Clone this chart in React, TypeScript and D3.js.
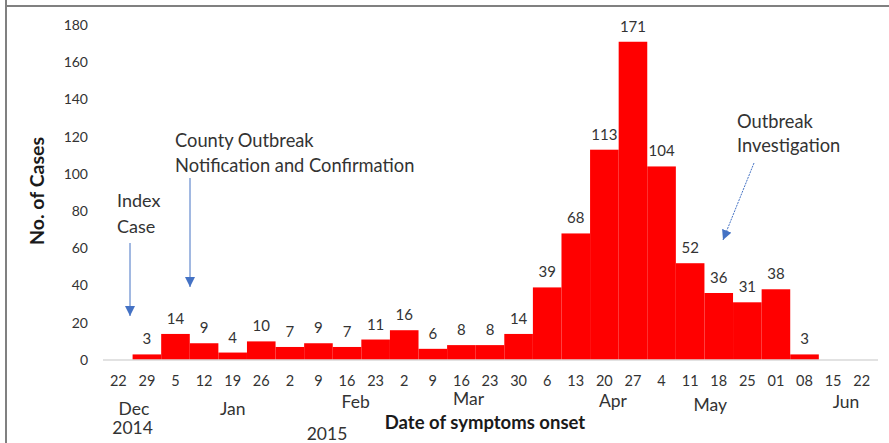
import React from 'react';
import * as d3 from 'd3';

// weekly case counts, week starting dates
const weekLabels = ['22', '29', '5', '12', '19', '26', '2', '9', '16', '23', '2', '9', '16', '23', '30',
    '6', '13', '20', '27', '4', '11', '18', '25', '01', '08', '15', '22'];
const cases = [0, 3, 14, 9, 4, 10, 7, 9, 7, 11, 16, 6, 8, 8, 14, 39, 68, 113, 171, 104, 52, 36, 31, 38, 3, 0, 0];
const yTicks = [0, 20, 40, 60, 80, 100, 120, 140, 160, 180];

// month labels: text, x (week index it sits under), baseline
const monthLabels = [
    { text: 'Dec', at: 0.55, y: 415 },
    { text: 'Jan', at: 4.0, y: 415 },
    { text: 'Feb', at: 8.3, y: 408 },
    { text: 'Mar', at: 12.25, y: 405 },
    { text: 'Apr', at: 17.3, y: 407 },
    { text: 'May', at: 20.7, y: 411 },
    { text: 'Jun', at: 25.45, y: 408 },
];
const yearLabels = [
    { text: '2014', at: 0.5, y: 434 },
    { text: '2015', at: 7.3, y: 440 },
];

const width = 889;
const height = 443;
const font = 'Lato, "Open Sans", sans-serif';
const arrowBlue = '#4472C4';
const textColor = '#333333';

const App = () => {
    const x = d3.scaleBand<number>()
        .domain(d3.range(weekLabels.length))
        .range([104, 876])
        .padding(0);

    const y = d3.scaleLinear()
        .domain([0, 180])
        .range([360, 25]);

    const cx = (i: number) => (x(Math.floor(i)) as number) + x.bandwidth() * (0.5 + i - Math.floor(i));

    return (
        <svg width={width} height={height} style={{ position: 'absolute', left: 0, top: 0, background: '#fff' }}
            fontFamily={font}>
            <defs>
                <marker id="head" viewBox="0 0 10 10" refX="10" refY="5" markerWidth="10" markerHeight="10"
                    markerUnits="userSpaceOnUse" orient="auto">
                    <path d="M0,0 L10,5 L0,10 Z" fill={arrowBlue} />
                </marker>
            </defs>

            {/* frame */}
            <line x1={6} y1={0} x2={6} y2={height} stroke="#808080" strokeWidth={2} />
            <line x1={6} y1={6} x2={width} y2={6} stroke="#808080" strokeWidth={2} />

            {/* y tick labels */}
            {yTicks.map(t => (
                <text key={t} x={88} y={y(t)} dy="0.35em" textAnchor="end" fontSize={14} fill={textColor}>{t}</text>
            ))}

            {/* bars */}
            {cases.map((v, i) => v > 0 && (
                <rect key={i} x={x(i)} y={y(v)} width={x.bandwidth()} height={y(0) - y(v)} fill="#ff0000" />
            ))}

            {/* baseline */}
            <line x1={103} x2={878} y1={y(0)} y2={y(0)} stroke="#d9d9d9" strokeWidth={1.5} />

            {/* data labels */}
            {cases.map((v, i) => v > 0 && (
                <text key={i} x={cx(i)} y={y(v) - 10} textAnchor="middle" fontSize={15} fill={textColor}>{v}</text>
            ))}

            {/* x tick labels */}
            {weekLabels.map((l, i) => (
                <text key={i} x={cx(i)} y={386} textAnchor="middle" fontSize={14.5} fill={textColor}>{l}</text>
            ))}

            {monthLabels.map(m => (
                <text key={m.text} x={cx(m.at)} y={m.y} textAnchor="middle" fontSize={17.5} fill={textColor}>{m.text}</text>
            ))}
            {yearLabels.map(m => (
                <text key={m.text} x={cx(m.at)} y={m.y} textAnchor="middle" fontSize={17.5} fill={textColor}>{m.text}</text>
            ))}

            {/* axis titles */}
            <text x={485} y={429} textAnchor="middle" fontSize={18.5} fontWeight="bold" fill="#1a1a1a">Date of symptoms onset</text>
            <text transform="translate(44,191) rotate(-90)" textAnchor="middle" fontSize={19.5} fontWeight="bold"
                fill="#1a1a1a">No. of Cases</text>

            {/* annotations */}
            <text x={117} y={207} fontSize={18} fill={textColor}>Index</text>
            <text x={117} y={233} fontSize={18} fill={textColor}>Case</text>
            <line x1={130} y1={243} x2={130} y2={316} stroke={arrowBlue} strokeWidth={1} markerEnd="url(#head)" />

            <text x={175} y={147} fontSize={18.3} fill={textColor}>County Outbreak</text>
            <text x={175} y={172} fontSize={18.3} fill={textColor}>Notification and Confirmation</text>
            <line x1={190} y1={178} x2={190} y2={287} stroke={arrowBlue} strokeWidth={1} markerEnd="url(#head)" />

            <text x={737} y={128} fontSize={18.3} fill={textColor}>Outbreak</text>
            <text x={737} y={152} fontSize={18.3} fill={textColor}>Investigation</text>
            <line x1={754} y1={163} x2={723} y2={240} stroke={arrowBlue} strokeWidth={1} strokeDasharray="2,1"
                markerEnd="url(#head)" />
        </svg>
    );
};

export default App;
